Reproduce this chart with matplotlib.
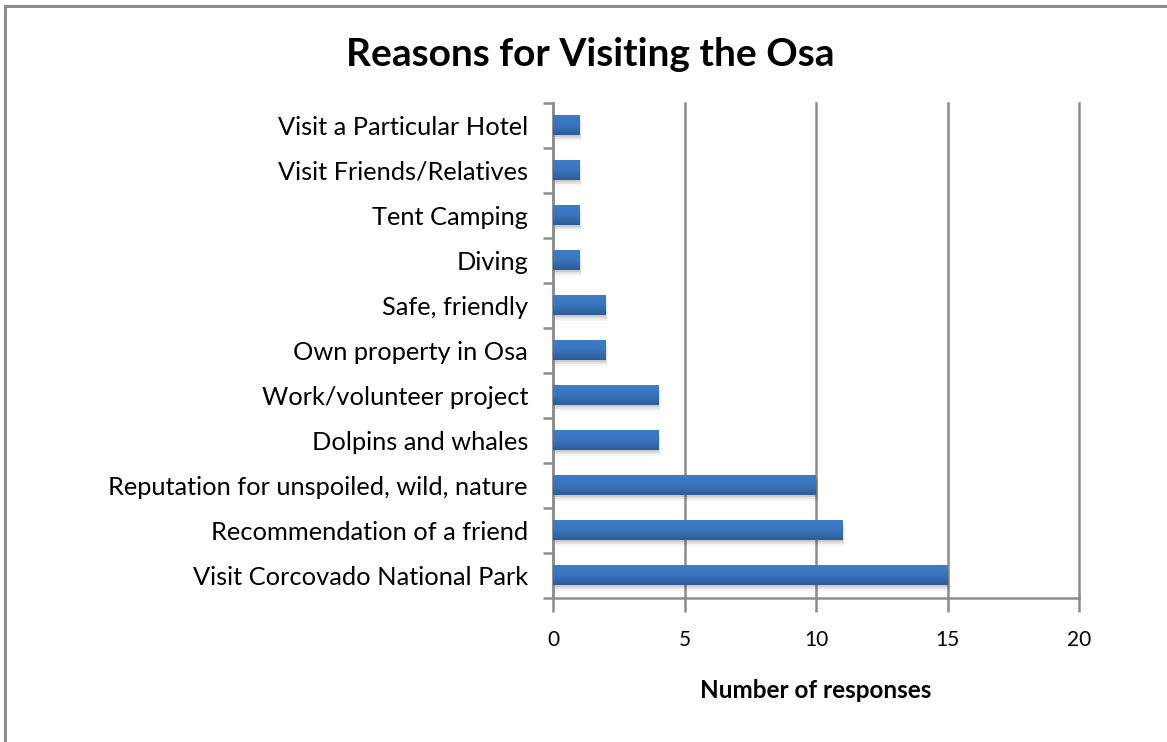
import numpy as np
import matplotlib.pyplot as plt
from matplotlib.colors import LinearSegmentedColormap
from matplotlib.patches import Rectangle

plt.rcParams['font.family'] = ['Lato', 'DejaVu Sans']

reasons = [
    "Visit Corcovado National Park",
    "Recommendation of a friend",
    "Reputation for unspoiled, wild, nature",
    "Dolpins and whales",
    "Work/volunteer project",
    "Own property in Osa",
    "Safe, friendly",
    "Diving",
    "Tent Camping",
    "Visit Friends/Relatives",
    "Visit a Particular Hotel",
]
responses = [15, 11, 10, 4, 4, 2, 2, 1, 1, 1, 1]
x_ticks = [0, 5, 10, 15, 20]

fig = plt.figure(figsize=(11.67, 7.42), dpi=100)
ax = fig.add_axes([553 / 1167, 1 - 598 / 742, 526 / 1167, 495 / 742])

# chart frame (only top and left edges fall inside the canvas)
fig.patches.append(Rectangle((5 / 1167, -0.1), 1.2, 1 - 6 / 742 + 0.1,
                             transform=fig.transFigure, fill=False,
                             edgecolor='#8c8c8c', linewidth=2.2, zorder=0))

ypos = np.arange(len(reasons))
bar_h = 0.43
grad = LinearSegmentedColormap.from_list('bar', ['#3d7cca', '#3a74bd', '#2d5c98'])
g = np.linspace(0, 1, 64).reshape(-1, 1)

for y, v in zip(ypos, responses):
    # soft drop shadow below each bar
    for k, a in enumerate([0.10, 0.07, 0.04]):
        ax.add_patch(Rectangle((0, y - bar_h / 2 - 0.04 * (k + 1)), v + 0.04 * (k + 0.5),
                               bar_h, facecolor='black', alpha=a, edgecolor='none', zorder=2))
    ax.imshow(g, cmap=grad, aspect='auto', zorder=3,
              extent=(0, v, y - bar_h / 2, y + bar_h / 2), interpolation='bilinear')

ax.set_xlim(0, 20)
ax.set_ylim(-0.5, len(reasons) - 0.5)
ax.set_xticks(x_ticks)
ax.set_xticklabels([str(t) for t in x_ticks], fontsize=15)
ax.set_yticks(ypos)
ax.set_yticklabels(reasons, fontsize=18.3)
ax.set_yticks(np.arange(-0.5, len(reasons)), minor=True)
ax.tick_params(axis='y', which='major', length=0, pad=18)
ax.tick_params(axis='y', which='minor', length=7, width=1.8, color='#8c8c8c', direction='out')
ax.tick_params(axis='x', length=10, width=1.8, color='#8c8c8c', pad=13)

ax.grid(axis='x', color='#8c8c8c', linewidth=1.8, zorder=1)
for gl in ax.get_xgridlines():
    gl.set_clip_on(False)
ax.set_axisbelow(True)
for side in ['top', 'right']:
    ax.spines[side].set_visible(False)
for side in ['left', 'bottom']:
    ax.spines[side].set_color('#8c8c8c')
    ax.spines[side].set_linewidth(1.8)

ax.set_xlabel("Number of responses", fontsize=17.5, fontweight='bold', labelpad=21)
fig.text(590 / 1167, 1 - 55 / 742, "Reasons for Visiting the Osa",
         ha='center', va='center', fontsize=28, fontweight='bold')

fig.savefig('out.png', dpi=100, facecolor='white')
